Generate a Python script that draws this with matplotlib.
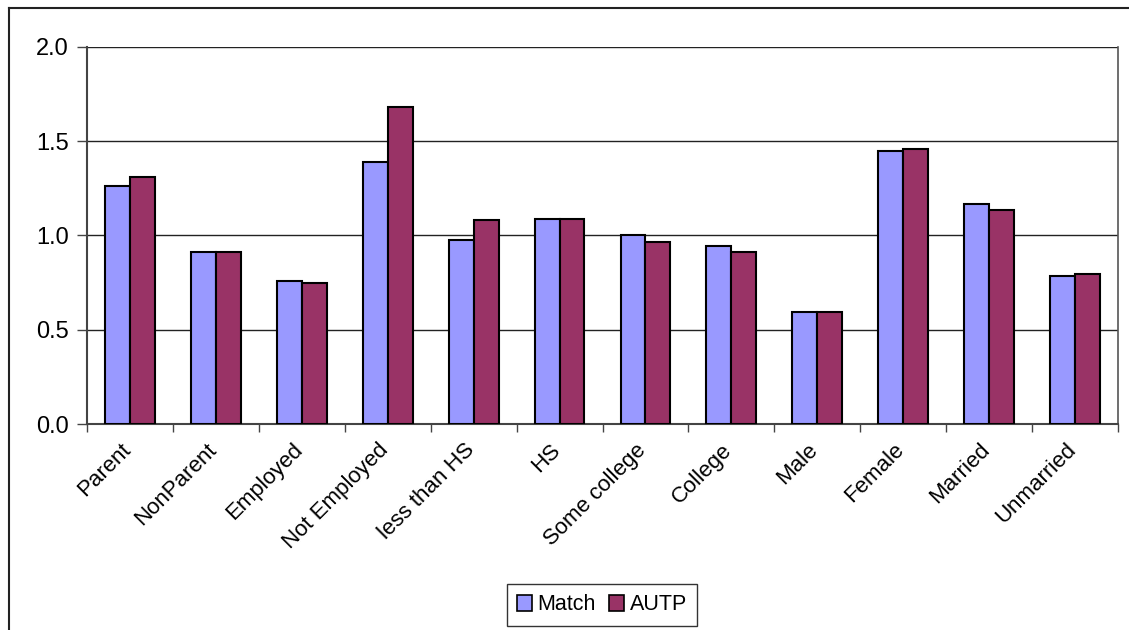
import matplotlib
matplotlib.use("Agg")
import matplotlib.pyplot as plt
import matplotlib.transforms as mtransforms
import numpy as np
from matplotlib.lines import Line2D
from matplotlib.patches import Patch

categories = ["Parent", "NonParent", "Employed", "Not Employed", "less than HS", "HS",
              "Some college", "College", "Male", "Female", "Married", "Unmarried"]
match_vals = [1.26, 0.91, 0.76, 1.39, 0.975, 1.09, 1.0, 0.945, 0.595, 1.45, 1.165, 0.785]
autp_vals = [1.31, 0.91, 0.75, 1.68, 1.08, 1.09, 0.965, 0.91, 0.595, 1.46, 1.135, 0.795]
yticks = [0.0, 0.5, 1.0, 1.5, 2.0]
series_names = ["Match", "AUTP"]
colors = ["#9999FF", "#993366"]

plt.rcParams['font.family'] = ['Liberation Sans', 'DejaVu Sans']

fig = plt.figure(figsize=(11.29, 6.3), dpi=100)
ax = fig.add_axes([87/1129, 1 - 424.3/630, (1118-87)/1129, (424.3-46.7)/630])

x = np.arange(len(categories))
w = 0.29
ax.bar(x - w/2, match_vals, width=w, color=colors[0], edgecolor="black", linewidth=1.5, zorder=3)
ax.bar(x + w/2, autp_vals, width=w, color=colors[1], edgecolor="black", linewidth=1.5, zorder=3)

ax.set_xlim(-0.5, len(categories) - 0.5)
ax.set_ylim(0, 2.0)
ax.set_yticks(yticks)
ax.set_yticklabels([f"{v:.1f}" for v in yticks], fontsize=17)
ax.yaxis.grid(True, color="#222222", linewidth=1.0, zorder=0)
ax.set_axisbelow(True)

ax.set_xticks(x)
ax.set_xticklabels(categories, rotation=45, ha="right", rotation_mode="anchor", fontsize=16)
ax.tick_params(axis="x", which="major", length=0, pad=11)
offset = mtransforms.ScaledTransform if False else None
shift = mtransforms.ScaledTranslation(-10/100, 0, fig.dpi_scale_trans)
for lbl in ax.get_xticklabels():
    lbl.set_transform(lbl.get_transform() + shift)
ax.set_xticks(np.arange(-0.5, len(categories) + 0.5, 1.0), minor=True)
ax.tick_params(axis="x", which="minor", length=6, color="#444444", width=1)
ax.tick_params(axis="y", length=7, color="#444444", width=1, pad=6)

for s in ["left", "bottom"]:
    ax.spines[s].set_color("#444444")
    ax.spines[s].set_linewidth(1.5)
ax.spines["right"].set_color("#555555")
ax.spines["right"].set_linewidth(1.2)
ax.spines["top"].set_visible(False)

# outer chart border
fig.add_artist(Line2D([9/1129, 1.0], [1 - 8/630, 1 - 8/630], color="#222222", linewidth=1.5, transform=fig.transFigure))
fig.add_artist(Line2D([9/1129, 9/1129], [0.0, 1 - 8/630], color="#222222", linewidth=1.5, transform=fig.transFigure))

handles = [Patch(facecolor=colors[0], edgecolor="black", linewidth=1.2),
           Patch(facecolor=colors[1], edgecolor="black", linewidth=1.2)]
leg = fig.legend(handles, series_names, loc="center", bbox_to_anchor=(602/1129, 1 - 605/630),
                 ncol=2, fontsize=15.5, frameon=True, fancybox=False, edgecolor="black",
                 handlelength=0.7, handleheight=0.7, handletextpad=0.25, columnspacing=0.6,
                 borderpad=0.5)
leg.get_frame().set_linewidth(1.0)

fig.savefig("out.png", dpi=100, facecolor="white")
